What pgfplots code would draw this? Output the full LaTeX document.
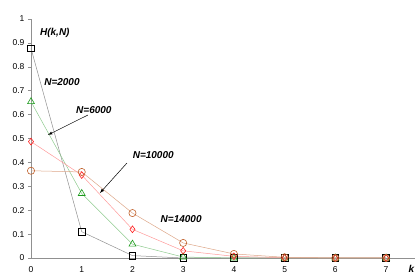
\documentclass[border=0pt]{standalone}
\usepackage{pgfplots}
\pgfplotsset{compat=1.18}
\usepackage{fontspec}
\setmainfont{Liberation Sans}
\definecolor{lgray}{HTML}{909090}
\definecolor{lgreen}{HTML}{8FCB8F}
\definecolor{lpink}{HTML}{FF9A9A}
\definecolor{lbrown}{HTML}{DDA688}
\definecolor{mgreen}{HTML}{1A9A1A}
\definecolor{mred}{HTML}{FF2020}
\definecolor{mbrown}{HTML}{C0602A}
\begin{document}
\begin{tikzpicture}[x=1pt,y=1pt]
\path[use as bounding box] (-31,-22) rectangle (384,258);
\begin{axis}[
  at={(0,0)}, anchor=origin,
  scale only axis, width=384pt, height=239pt,
  xmin=0, xmax=7.57, ymin=0, ymax=1,
  axis lines=left, axis line style={lgray, -},
  xtick={0,...,7}, ytick={0,0.1,...,1},
  yticklabels={0,0.1,0.2,0.3,0.4,0.5,0.6,0.7,0.8,0.9,1},
  tick style={lgray, thin}, tick align=outside, major tick length=3pt,
  xtick style={draw=none},
  xticklabel style={yshift=-2pt},
  tick label style={font=\fontsize{8.5}{9}\selectfont, text=black},
  /pgf/number format/assume math mode=true,
  clip=false,
  every axis plot/.append style={line width=0.5pt},
]
\addplot[lgray, mark=square, mark size=3.3pt, mark options={black, solid, line width=0.6pt}] coordinates {
(0,0.877) (1,0.11) (2,0.01) (3,0.0) (4,0) (5,0) (6,0) (7,0)};
\addplot[lgreen, mark=triangle, mark size=4pt, mark options={mgreen, solid, line width=0.6pt}] coordinates {
(0,0.654) (1,0.27) (2,0.058) (3,0.004) (4,0) (5,0) (6,0) (7,0)};
\addplot[lpink, mark=diamond, mark size=3.4pt, mark options={mred, solid, line width=0.6pt}] coordinates {
(0,0.487) (1,0.347) (2,0.12) (3,0.03) (4,0.007) (5,0.001) (6,0) (7,0)};
\addplot[lbrown, mark=o, mark size=3.6pt, mark options={mbrown, solid, line width=0.6pt}] coordinates {
(0,0.365) (1,0.36) (2,0.188) (3,0.063) (4,0.017) (5,0.003) (6,0.0) (7,0)};
\begin{scope}[font=\fontsize{10}{11}\selectfont\bfseries\itshape]
\node at (axis cs:0.47,0.94) {H(k,N)};
\node at (axis cs:0.61,0.736) {N=2000};
\node at (axis cs:1.24,0.62) {N=6000};
\node at (axis cs:2.41,0.43) {N=10000};
\node at (axis cs:2.96,0.163) {N=14000};
\node at (axis cs:7.5,-0.045) {k};
\end{scope}
\draw[-latex, black, line width=0.5pt] (axis cs:1.12,0.598) -- (axis cs:0.335,0.515);
\draw[-latex, black, line width=0.5pt] (axis cs:1.89,0.397) -- (axis cs:1.36,0.272);
\end{axis}
\end{tikzpicture}
\end{document}
